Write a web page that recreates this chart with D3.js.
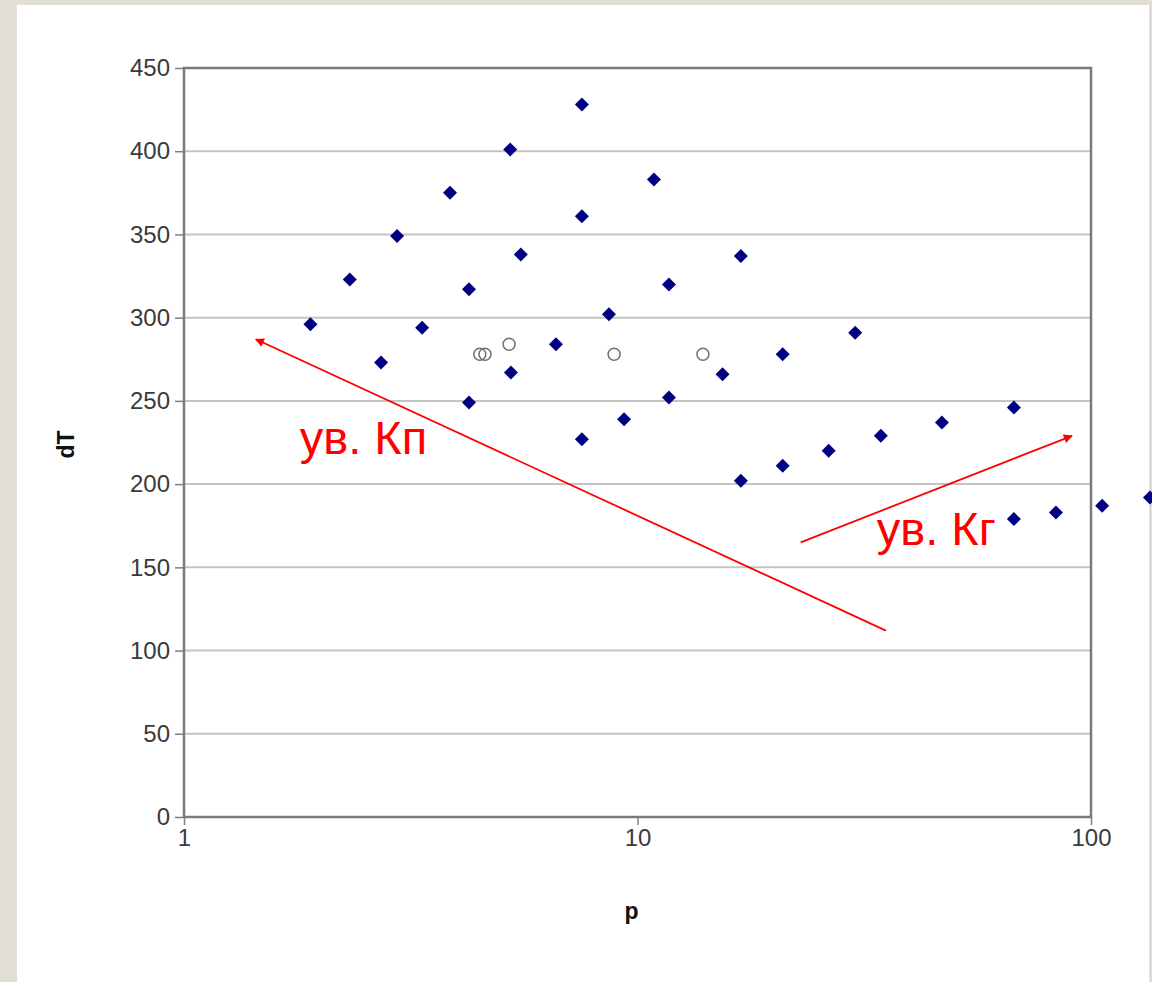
<!DOCTYPE html>
<html>
<head>
<meta charset="UTF-8">
<title>dT vs p</title>
<script src="https://d3js.org/d3.v7.min.js"></script>
<style>
body { margin: 0; background: #e4dfd5; }
text { font-family: "Liberation Sans", Arial, sans-serif; }
</style>
</head>

<body>

<figure class=chart style="margin:0"></figure>

<script type="text/javascript">

/* Data */
var diamondP  = [1.9, 2.32, 2.95, 3.86, 5.24, 7.54,
		2.72, 3.35, 4.25, 5.53, 7.54, 10.87,
		4.25, 5.26, 6.61, 8.65, 11.73, 16.9,
		7.54, 9.34, 11.73, 15.4, 20.9, 30.2,
		16.9, 20.9, 26.4, 34.4, 46.9, 67.6,
		67.6, 83.7, 105.8, 134.9];
var diamondDT = [296, 323, 349, 375, 401, 428,
		273, 294, 317, 338, 361, 383,
		249, 267, 284, 302, 320, 337,
		227, 239, 252, 266, 278, 291,
		202, 211, 220, 229, 237, 246,
		179, 183, 187, 192];
var circleP  = [4.49, 4.61, 5.21, 8.88, 13.94];
var circleDT = [278, 278, 284, 278, 278];

var yTicks = [0, 50, 100, 150, 200, 250, 300, 350, 400, 450];
var xTicks = [1, 10, 100];

/* Annotations (data coordinates) */
var arrowFrom = [[35.3, 112], [22.9, 165]];
var arrowTo   = [[1.44, 287], [90.8, 229]];
var noteText  = ['ув. Кп', 'ув. Кг'];
var noteAt    = [[1.80, 218], [33.7, 163.5]];

/* Global variables */
var W = 1152, H = 982
var plotL = 184, plotR = 1091, plotT = 68, plotB = 817
var x = d3.scaleLog().domain([1, 100]).range([plotL, plotR])
var y = d3.scaleLinear().domain([0, 450]).range([plotB, plotT])
var red = '#ff0000'

/* Functions */

function draw_canvas() {
	var svg = d3.select('figure')
		.append('svg')
		.attr('width', W)
		.attr('height', H)
		.style('display', 'block')

	// white panel inside the beige window frame
	svg.append('rect')
		.attr('x', 17).attr('y', 5)
		.attr('width', 1133).attr('height', H - 5)
		.style('fill', '#ffffff')
	svg.append('line')
		.attr('x1', 1150).attr('x2', 1150)
		.attr('y1', 5).attr('y2', H)
		.style('stroke', '#c8c8c8')
		.style('stroke-width', 1)

	svg.append('defs').append('marker')
		.attr('id', 'head')
		.attr('viewBox', '0 0 10 10')
		.attr('refX', 9).attr('refY', 5)
		.attr('markerWidth', 12).attr('markerHeight', 9)
		.attr('markerUnits', 'userSpaceOnUse')
		.attr('orient', 'auto')
		.append('path')
		.attr('d', 'M0,0 L10,5 L0,10 z')
		.style('fill', red)
}

function draw_axes() {
	var svg = d3.select('svg')

	// horizontal gridlines
	svg.append('g')
		.selectAll('line')
		.data(yTicks.slice(1, -1))
		.enter()
		.append('line')
		.attr('x1', plotL).attr('x2', plotR)
		.attr('y1', function(d) { return y(d); })
		.attr('y2', function(d) { return y(d); })
		.style('stroke', '#c4c4c4')
		.style('stroke-width', 2)

	var yAxis = svg.append('g')
		.attr('transform', 'translate(' + plotL + ',0)')
		.call(d3.axisLeft(y).tickValues(yTicks).tickSize(9).tickPadding(5))
	var xAxis = svg.append('g')
		.attr('transform', 'translate(0,' + plotB + ')')
		.call(d3.axisBottom(x).tickValues(xTicks).tickFormat(d3.format('d')).tickSize(8).tickPadding(4))

	;[yAxis, xAxis].forEach(function(a) {
		a.select('.domain').remove()
		a.selectAll('line').style('stroke', '#808080').style('stroke-width', 1.5)
		a.selectAll('text')
			.style('font-size', '24px')
			.style('fill', '#3a3a3a')
			.style('font-family', '"Liberation Sans", Arial, sans-serif')
	})

	// plot frame
	svg.append('rect')
		.attr('x', plotL).attr('y', plotT)
		.attr('width', plotR - plotL).attr('height', plotB - plotT)
		.style('fill', 'none')
		.style('stroke', '#7a7a7a')
		.style('stroke-width', 2.5)

	svg.append('text')
		.attr('transform', 'translate(74,' + ((plotT + plotB) / 2 + 2) + ') rotate(-90)')
		.attr('text-anchor', 'middle')
		.style('font-weight', 'bold')
		.style('font-size', '23px')
		.style('fill', '#111')
		.text('dT')
	svg.append('text')
		.attr('x', (plotL + plotR) / 2 - 6)
		.attr('y', 919)
		.attr('text-anchor', 'middle')
		.style('font-weight', 'bold')
		.style('font-size', '23px')
		.style('fill', '#111')
		.text('p')
}

function draw_points() {
	var svg = d3.select('svg')
	var s = 7	// half diagonal of a diamond
	svg.append('g')
		.selectAll('path')
		.data(diamondP)
		.enter()
		.append('path')
		.attr('transform', function(d, i) { return 'translate(' + x(d) + ',' + y(diamondDT[i]) + ')'; })
		.attr('d', 'M0,' + (-s) + 'L' + s + ',0L0,' + s + 'L' + (-s) + ',0Z')
		.style('fill', '#000080')

	svg.append('g')
		.selectAll('circle')
		.data(circleP)
		.enter()
		.append('circle')
		.attr('cx', function(d) { return x(d); })
		.attr('cy', function(d, i) { return y(circleDT[i]); })
		.attr('r', 6)
		.style('fill', 'none')
		.style('stroke', '#707070')
		.style('stroke-width', 1.5)
}

function draw_notes() {
	var svg = d3.select('svg')
	svg.append('g')
		.selectAll('line')
		.data(arrowFrom)
		.enter()
		.append('line')
		.attr('x1', function(d) { return x(d[0]); })
		.attr('y1', function(d) { return y(d[1]); })
		.attr('x2', function(d, i) { return x(arrowTo[i][0]); })
		.attr('y2', function(d, i) { return y(arrowTo[i][1]); })
		.style('stroke', red)
		.style('stroke-width', 1.8)
		.attr('marker-end', 'url(#head)')

	svg.append('g')
		.selectAll('text')
		.data(noteText)
		.enter()
		.append('text')
		.attr('x', function(d, i) { return x(noteAt[i][0]); })
		.attr('y', function(d, i) { return y(noteAt[i][1]); })
		.style('font-size', '47px')
		.style('fill', red)
		.text(function(d) { return d; })
}

/* Main code */
draw_canvas()
draw_axes()
draw_points()
draw_notes()

</script>

</body>

</html>
